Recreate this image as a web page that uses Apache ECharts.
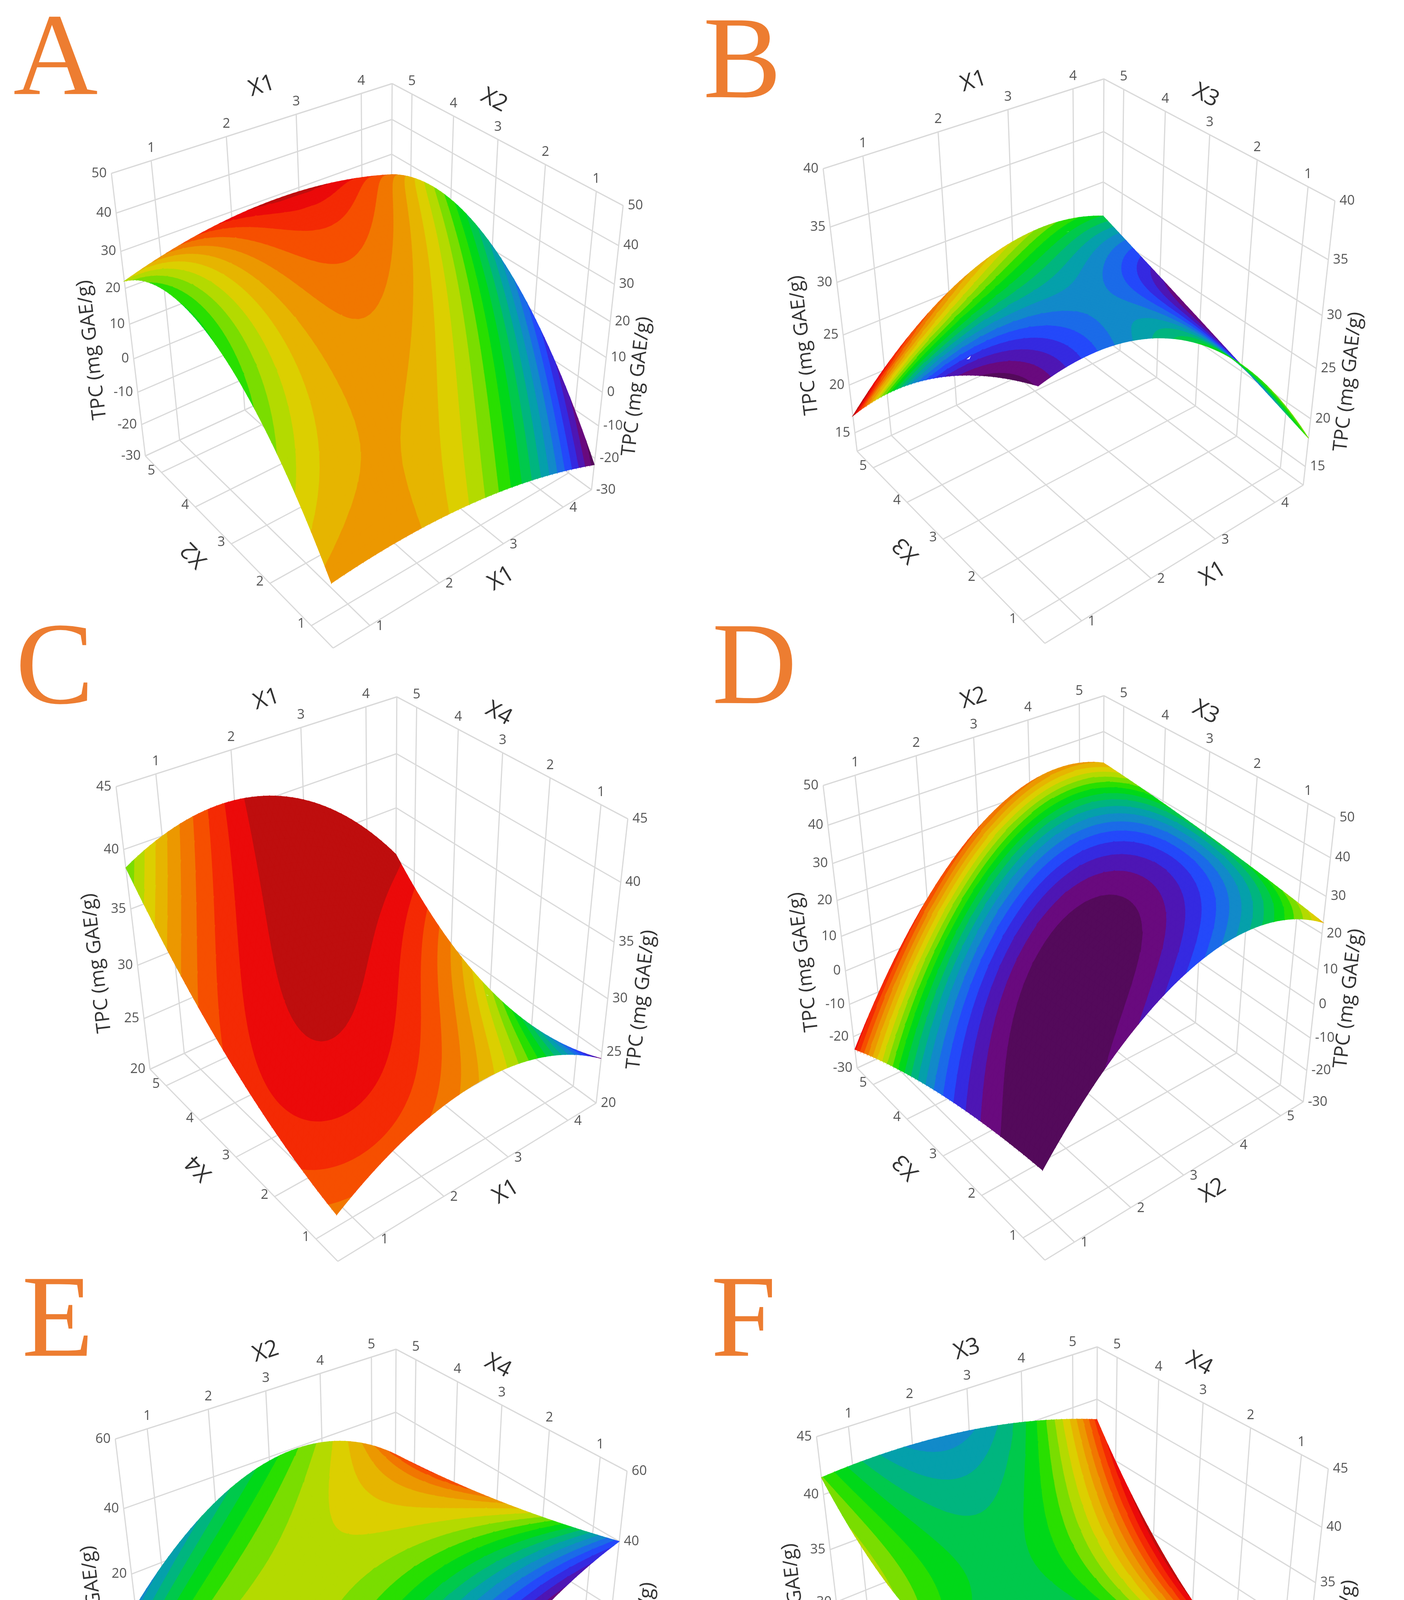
<!DOCTYPE html>
<html>
<head>
<meta charset="utf-8">
<script src="https://cdn.jsdelivr.net/npm/echarts@6/dist/echarts.min.js"></script>
<style>html,body{margin:0;background:#fff}#main{width:3594px;height:5012px}</style>
</head>
<body>
<div id="main"></div>
<script>
// panels, left to right and top to bottom
var panelLetters = ['A', 'B', 'C', 'D', 'E', 'F'];
var uAxisNames = ['X1', 'X1', 'X1', 'X2', 'X2', 'X3'];
var vAxisNames = ['X2', 'X3', 'X4', 'X3', 'X4', 'X4'];
var uRanges = [[0.5, 4.5], [0.5, 4.5], [0.5, 4.5], [0.5, 5.5], [0.5, 5.5], [0.5, 5.5]];
var vRanges = [[0.5, 5.5], [0.5, 5.5], [0.5, 5.5], [0.5, 5.5], [0.5, 5.5], [0.5, 5.5]];
var uTicks = [[1, 2, 3, 4], [1, 2, 3, 4], [1, 2, 3, 4], [1, 2, 3, 4, 5], [1, 2, 3, 4, 5], [1, 2, 3, 4, 5]];
var vTicks = [1, 2, 3, 4, 5];
var zRanges = [[-30, 50], [13, 40], [20, 45], [-30, 50], [-30, 60], [17.8, 45]];
var zTicks = [
  [-30, -20, -10, 0, 10, 20, 30, 40, 50],
  [15, 20, 25, 30, 35, 40],
  [20, 25, 30, 35, 40, 45],
  [-30, -20, -10, 0, 10, 20, 30, 40, 50],
  [-20, 0, 20, 40, 60],
  [20, 25, 30, 35, 40, 45]
];
var zTitle = 'TPC (mg GAE/g)';

// surface heights (TPC) on a 3x3 grid: [u low, mid, high][v low, mid, high]
var heightA = [[-11, 26.5, 22], [-11.5, 29, 29], [-22, 21, 24]];
var heightB = [[36, 28.6, 16.8], [33.4, 30.5, 26.6], [18, 22.3, 26.5]];
var heightC = [[24.3, 29.2, 38.5], [28.9, 31, 40.2], [24.4, 23.5, 30.5]];
var heightD = [[-4, -10.7, -24], [28.8, 27.6, 25.5], [23, 28, 31]];
var heightE = [[-23, -6.7, 9.6], [19.5, 28, 38.8], [40, 31, 26]];
var heightF = [[38.5, 35.5, 41.5], [31.4, 32, 41.2], [21.6, 25.8, 38]];
// colour position (0 purple .. 1 dark red) on the same grid
var colorA = [[0.75, 0.5, 0.62], [0.62, 0.8, 0.97], [0.02, 0.35, 0.8]];
var colorB = [[0.05, 0.2, 1.0], [0.45, 0.3, 0.7], [0.55, 0.05, 0.45]];
var colorC = [[0.8, 0.87, 0.55], [0.72, 0.95, 1.0], [0.05, 0.6, 0.97]];
var colorD = [[0, 0.25, 0.92], [0.2, 0.08, 0.82], [0.7, 0.42, 0.72]];
var colorE = [[0.3, 0.68, 0.3], [0.05, 0.6, 0.48], [0.2, 0.75, 0.85]];
var colorF = [[0.15, 0.55, 0.55], [0.05, 0.45, 0.31], [0.6, 0.95, 0.88]];
var heights = [heightA, heightB, heightC, heightD, heightE, heightF];
var colors = [colorA, colorB, colorC, colorD, colorE, colorF];

var palette = ['#4a0a4a', '#6a0a80', '#3b1fd8', '#2050ff', '#1585d0', '#00a8a0', '#00c850',
  '#00e000', '#80dd00', '#d8d800', '#e8b000', '#f08000', '#f84000', '#ee0a0a', '#a81010'];
var bandCount = 22;

var panelOffsets = [[0, 0], [1822, -12], [12, 1570], [1822, 1567], [10, 3240], [1805, 3234]];
var letterPos = [[34, 162], [1800, 170], [40, 1721], [1823, 1721], [56, 3392], [1820, 3392]];

// box corners on screen for panel A: [u, v, w, x, y]
var boxAnchors = [
  [0, 0, 0, 853, 1659], [0, 1, 0, 372, 1167], [0, 1, 1, 285, 444],
  [1, 0, 0, 1514, 1254], [1, 0, 1, 1595, 526], [1, 1, 1, 1004, 214]
];

function solveProjection(pts) {
  var rows = [], rhs = [];
  pts.forEach(function (p) {
    var X = p[0], Y = p[1], Z = p[2], x = p[3], y = p[4];
    rows.push([X, Y, Z, 1, 0, 0, 0, 0, -x * X, -x * Y, -x * Z]); rhs.push(x);
    rows.push([0, 0, 0, 0, X, Y, Z, 1, -y * X, -y * Y, -y * Z]); rhs.push(y);
  });
  var n = 11, M = [];
  for (var i = 0; i < n; i++) {
    M.push([]);
    for (var j = 0; j <= n; j++) {
      var s = 0;
      for (var k = 0; k < rows.length; k++) s += rows[k][i] * (j < n ? rows[k][j] : rhs[k]);
      M[i].push(s);
    }
  }
  for (var c = 0; c < n; c++) {
    var piv = c;
    for (var r = c + 1; r < n; r++) if (Math.abs(M[r][c]) > Math.abs(M[piv][c])) piv = r;
    var t = M[c]; M[c] = M[piv]; M[piv] = t;
    for (var r2 = 0; r2 < n; r2++) {
      if (r2 === c) continue;
      var f = M[r2][c] / M[c][c];
      for (var j2 = c; j2 <= n; j2++) M[r2][j2] -= f * M[c][j2];
    }
  }
  return M.map(function (row, i) { return row[n] / row[i]; });
}
var P = solveProjection(boxAnchors);

function project(u, v, w, off) {
  var d = P[8] * u + P[9] * v + P[10] * w + 1;
  return [
    (P[0] * u + P[1] * v + P[2] * w + P[3]) / d + off[0],
    (P[4] * u + P[5] * v + P[6] * w + P[7]) / d + off[1],
    d
  ];
}

function hexToRgb(h) { return [parseInt(h.substr(1, 2), 16), parseInt(h.substr(3, 2), 16), parseInt(h.substr(5, 2), 16)]; }
var paletteRgb = palette.map(hexToRgb);
function paletteColor(t) {
  t = Math.max(0, Math.min(1, t)) * (paletteRgb.length - 1);
  var i = Math.min(Math.floor(t), paletteRgb.length - 2), f = t - i;
  var a = paletteRgb[i], b = paletteRgb[i + 1];
  return 'rgb(' + [0, 1, 2].map(function (k) { return Math.round(a[k] + (b[k] - a[k]) * f); }).join(',') + ')';
}
var bandColors = [];
for (var b = 0; b < bandCount; b++) bandColors.push(paletteColor((b + 0.5) / bandCount));

function lagrange(s) { return [2 * (s - 0.5) * (s - 1), -4 * s * (s - 1), 2 * s * (s - 0.5)]; }
function evalGrid(g, s, t) {
  var a = lagrange(s), c = lagrange(t), r = 0;
  for (var i = 0; i < 3; i++) for (var j = 0; j < 3; j++) r += g[i][j] * a[i] * c[j];
  return r;
}

// clip a polygon (x, y, t) to the side of t = lo given by sign
function clip(poly, lo, sign) {
  var out = [];
  for (var i = 0; i < poly.length; i++) {
    var a = poly[i], b = poly[(i + 1) % poly.length];
    var ia = sign * (a[2] - lo) >= 0, ib = sign * (b[2] - lo) >= 0;
    if (ia) out.push(a);
    if (ia !== ib) {
      var f = (lo - a[2]) / (b[2] - a[2]);
      out.push([a[0] + (b[0] - a[0]) * f, a[1] + (b[1] - a[1]) * f, lo]);
    }
  }
  return out;
}

var GRID_LINE = '#d9d9d9';
var TICK_FONT = 'Open Sans';

function buildPanel(p) {
  var off = panelOffsets[p];
  var ur = uRanges[p], vr = vRanges[p], zr = zRanges[p];
  var nu = function (x) { return (x - ur[0]) / (ur[1] - ur[0]); };
  var nv = function (x) { return (x - vr[0]) / (vr[1] - vr[0]); };
  var nz = function (x) { return (x - zr[0]) / (zr[1] - zr[0]); };
  var els = [];
  function line(a, b) {
    var A = project(a[0], a[1], a[2], off), B = project(b[0], b[1], b[2], off);
    els.push({ type: 'line', silent: true, shape: { x1: A[0], y1: A[1], x2: B[0], y2: B[1] },
      style: { stroke: GRID_LINE, lineWidth: 3 } });
  }
  function text(str, pt, dx, dy, opt) {
    var q = project(pt[0], pt[1], pt[2], off);
    els.push({ type: 'text', silent: true, x: q[0] + dx, y: q[1] + dy, rotation: opt.rotation || 0,
      style: { text: str, fontSize: opt.size, fontFamily: TICK_FONT, fill: opt.fill,
        align: opt.align || 'center', verticalAlign: 'middle' } });
  }
  function edgeAngle(a, b, flip) {
    var A = project(a[0], a[1], a[2], off), B = project(b[0], b[1], b[2], off);
    var ang = -Math.atan2(B[1] - A[1], B[0] - A[0]);
    return flip ? ang + Math.PI : ang;
  }

  // walls and floor grid
  uTicks[p].forEach(function (t) {
    var u = nu(t);
    line([u, 1, 0], [u, 1, 1]);
    line([u, 0, 0], [u, 1, 0]);
  });
  vTicks.forEach(function (t) {
    var v = nv(t);
    line([1, v, 0], [1, v, 1]);
    line([0, v, 0], [1, v, 0]);
  });
  zTicks[p].forEach(function (t) {
    var w = nz(t);
    line([0, 1, w], [1, 1, w]);
    line([1, 1, w], [1, 0, w]);
  });
  [[[0, 1, 0], [0, 1, 1]], [[1, 0, 0], [1, 0, 1]], [[1, 1, 0], [1, 1, 1]],
   [[0, 1, 1], [1, 1, 1]], [[1, 1, 1], [1, 0, 1]], [[0, 1, 0], [1, 1, 0]], [[1, 1, 0], [1, 0, 0]],
   [[0, 0, 0], [0, 1, 0]], [[0, 0, 0], [1, 0, 0]]].forEach(function (e) { line(e[0], e[1]); });

  // surface
  var N = 48, H = heights[p], C = colors[p], verts = [];
  var top = bandCount - 1e-6;
  for (var i = 0; i <= N; i++) {
    verts.push([]);
    for (var j = 0; j <= N; j++) {
      var s = i / N, t = j / N;
      var z = evalGrid(H, s, t);
      var q = project(s, t, nz(z), off);
      var cv = Math.max(0, Math.min(top, evalGrid(C, s, t) * bandCount));
      verts[i].push([q[0], q[1], cv, q[2]]);
    }
  }
  var tris = [];
  for (var i2 = 0; i2 < N; i2++) {
    for (var j2 = 0; j2 < N; j2++) {
      var a = verts[i2][j2], b2 = verts[i2 + 1][j2], c = verts[i2 + 1][j2 + 1], d = verts[i2][j2 + 1];
      var depth = (a[3] + b2[3] + c[3] + d[3]) / 4;
      tris.push({ depth: depth, pts: [a, b2, c] });
      tris.push({ depth: depth, pts: [a, c, d] });
    }
  }
  tris.sort(function (x, y) { return y.depth - x.depth; });
  tris.forEach(function (tr) {
    var tv = tr.pts.map(function (q) { return q[2]; });
    var lo = Math.floor(Math.min.apply(null, tv));
    var hi = Math.floor(Math.max.apply(null, tv));
    for (var k = lo; k <= hi; k++) {
      var poly = tr.pts.map(function (q) { return [q[0], q[1], q[2]]; });
      if (k > lo) poly = clip(poly, k, 1);
      if (poly.length && k < hi) poly = clip(poly, k + 1, -1);
      if (poly.length < 3) continue;
      els.push({ type: 'polygon', silent: true, shape: { points: poly.map(function (q) { return [q[0], q[1]]; }) },
        style: { fill: bandColors[k], stroke: bandColors[k], lineWidth: 1.5 } });
    }
  });

  // tick labels
  var tickStyle = { size: 34, fill: '#555' };
  uTicks[p].forEach(function (t) {
    var u = nu(t);
    text(String(t), [u, 1, 1], 0, -32, tickStyle);
    text(String(t), [u, 0, 0], 16, 2, { size: 34, fill: '#555', align: 'left' });
  });
  vTicks.forEach(function (t) {
    var v = nv(t);
    text(String(t), [1, v, 1], 0, -32, tickStyle);
    text(String(t), [0, v, 0], -16, -4, { size: 34, fill: '#555', align: 'right' });
  });
  zTicks[p].forEach(function (t) {
    var w = nz(t);
    text(String(t), [0, 1, w], -12, 0, { size: 34, fill: '#555', align: 'right' });
    text(String(t), [1, 0, w], 12, 0, { size: 34, fill: '#555', align: 'left' });
  });

  // axis titles
  var titleStyle = function (rot) { return { size: 58, fill: '#333', rotation: rot }; };
  text(uAxisNames[p], [0.5, 1, 1], 0, -100, titleStyle(edgeAngle([0, 1, 1], [1, 1, 1])));
  text(vAxisNames[p], [1, 0.5, 1], -10, -100, titleStyle(edgeAngle([1, 1, 1], [1, 0, 1])));
  text(vAxisNames[p], [0, 0.5, 0], -95, 28, titleStyle(edgeAngle([0, 1, 0], [0, 0, 0], true)));
  text(uAxisNames[p], [0.5, 0, 0], 75, 40, titleStyle(edgeAngle([0, 0, 0], [1, 0, 0])));
  text(zTitle, [0, 1, 0.45], -100, 30, { size: 50, fill: '#333', rotation: edgeAngle([0, 1, 0], [0, 1, 1]) });
  text(zTitle, [1, 0, 0.45], 82, 38, { size: 50, fill: '#333', rotation: edgeAngle([1, 0, 0], [1, 0, 1]) });

  // panel letter
  els.push({ type: 'text', silent: true, x: letterPos[p][0], y: letterPos[p][1],
    style: { text: panelLetters[p], fontSize: 300, fontFamily: 'Liberation Serif', fill: '#ed7d31',
      align: 'left', verticalAlign: 'middle' } });
  return els;
}

var chart = echarts.init(document.getElementById('main'), null, { renderer: 'canvas' });
var series = panelLetters.map(function (name, p) {
  var els = buildPanel(p);
  return {
    type: 'custom', name: name, coordinateSystem: 'none', silent: true, data: [0],
    renderItem: function () { return { type: 'group', children: els }; }
  };
});
chart.setOption({ animation: false, backgroundColor: '#fff', series: series });
</script>
</body>
</html>
